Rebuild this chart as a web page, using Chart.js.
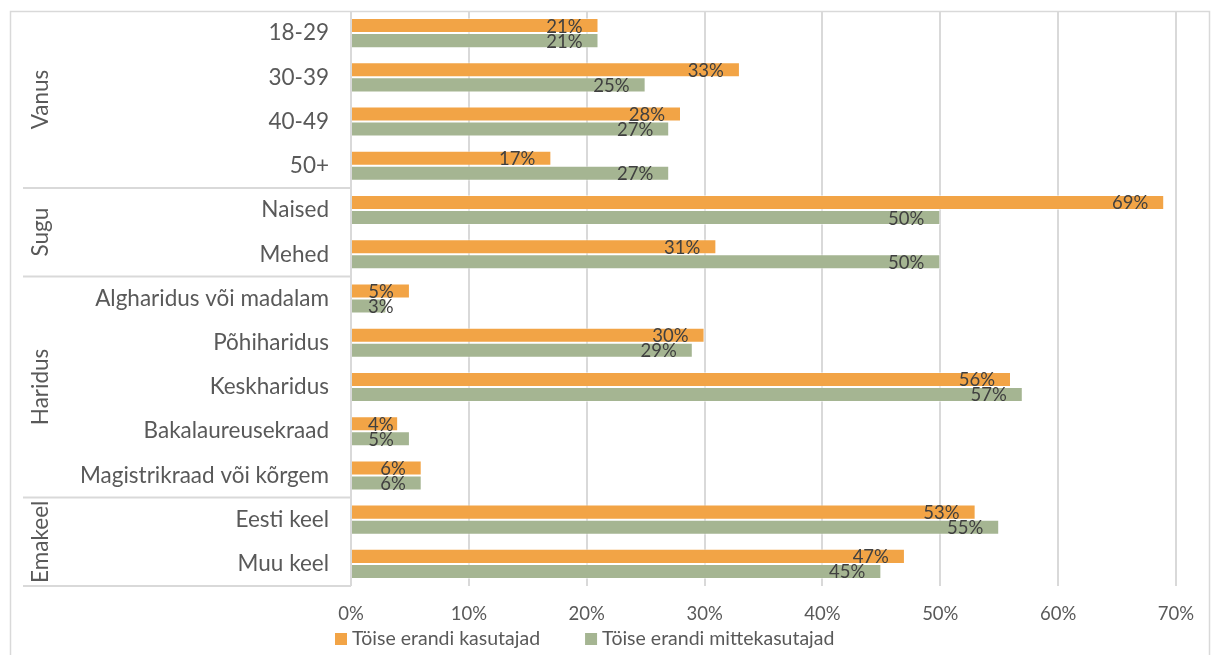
<!DOCTYPE html>
<html>
<head>
<meta charset="utf-8">
<script src="https://cdn.jsdelivr.net/npm/chart.js@4/dist/chart.umd.min.js"></script>
<style>
  html, body { margin: 0; padding: 0; background: #ffffff; }
  #wrap { width: 1213px; height: 655px; position: relative; }
</style>
</head>
<body>
<div id="wrap"><canvas id="c" width="1213" height="655"></canvas></div>
<script>
// Categories, top to bottom
const categories = [
  '18-29', '30-39', '40-49', '50+',
  'Naised', 'Mehed',
  'Algharidus või madalam', 'Põhiharidus', 'Keskharidus', 'Bakalaureusekraad', 'Magistrikraad või kõrgem',
  'Eesti keel', 'Muu keel'
];
// Grouping of the categories (name + number of rows in each group)
const groupNames = ['Vanus', 'Sugu', 'Haridus', 'Emakeel'];
const groupSizes = [4, 2, 5, 2];

// Series (percent)
const seriesNames = ['Töise erandi kasutajad', 'Töise erandi mittekasutajad'];
const users    = [21, 33, 28, 17, 69, 31, 5, 30, 56, 4, 6, 53, 47];
const nonUsers = [21, 25, 27, 27, 50, 50, 3, 29, 57, 5, 6, 55, 45];

// Axis ticks
const xTicks = [0, 10, 20, 30, 40, 50, 60, 70];

const FONT = 'Lato, "Open Sans", "Liberation Sans", sans-serif';
const TEXT = '#595959';
const LABEL = '#404040';
const GRID = '#d9d9d9';
const ORANGE = '#F2A446';
const GREEN = '#A5B592';

// Frame, group labels, separators, value labels and legend
const decorations = {
  id: 'decorations',
  beforeDraw(chart) {
    const ctx = chart.ctx;
    ctx.save();
    ctx.fillStyle = '#ffffff';
    ctx.fillRect(0, 0, chart.width, chart.height);
    ctx.strokeStyle = GRID;
    ctx.lineWidth = 1.5;
    ctx.strokeRect(10.5, 11.5, 1199, 700);
    ctx.restore();
  },
  afterDraw(chart) {
    const ctx = chart.ctx;
    const area = chart.chartArea;
    const y = chart.scales.y;
    ctx.save();

    // group separators and rotated group names
    ctx.strokeStyle = GRID;
    ctx.lineWidth = 2;
    let start = 0;
    groupNames.forEach((name, gi) => {
      const end = start + groupSizes[gi];
      const yTop = y.getPixelForValue(start - 0.5);
      const yBot = y.getPixelForValue(end - 0.5);
      ctx.beginPath();
      ctx.moveTo(23, yBot);
      ctx.lineTo(area.left, yBot);
      ctx.stroke();
      ctx.save();
      ctx.translate(41, (yTop + yBot) / 2);
      ctx.rotate(-Math.PI / 2);
      ctx.fillStyle = TEXT;
      ctx.font = '22.5px ' + FONT;
      ctx.textAlign = 'center';
      ctx.textBaseline = 'middle';
      ctx.fillText(name, 0, 0);
      ctx.restore();
      start = end;
    });

    // value labels at the inner end of each bar
    ctx.font = '18.5px ' + FONT;
    ctx.fillStyle = LABEL;
    ctx.textBaseline = 'middle';
    ctx.textAlign = 'left';
    chart.data.datasets.forEach((ds, di) => {
      const meta = chart.getDatasetMeta(di);
      meta.data.forEach((el, i) => {
        const txt = ds.data[i] + '%';
        const w = ctx.measureText(txt).width;
        let left = el.x - 16 - w;
        if (left < el.base + 16) left = el.base + 16;
        ctx.fillText(txt, left, el.y + 1);
      });
    });

    // legend
    ctx.font = '19.5px ' + FONT;
    let lx = 335;
    const ly = 639;
    chart.data.datasets.forEach((ds) => {
      ctx.fillStyle = ds.backgroundColor;
      ctx.fillRect(lx, ly - 6, 12, 12);
      ctx.fillStyle = TEXT;
      ctx.fillText(ds.label, lx + 17, ly);
      lx += 17 + ctx.measureText(ds.label).width + 45;
    });
    ctx.restore();
  }
};

new Chart(document.getElementById('c'), {
  type: 'bar',
  data: {
    labels: categories,
    datasets: [
      { label: seriesNames[0], data: users, backgroundColor: ORANGE,
        borderColor: 'rgba(255,255,255,0.45)', borderWidth: 1,
        categoryPercentage: 0.68, barPercentage: 1.0 },
      { label: seriesNames[1], data: nonUsers, backgroundColor: GREEN,
        borderColor: 'rgba(255,255,255,0.45)', borderWidth: 1,
        categoryPercentage: 0.68, barPercentage: 1.0 }
    ]
  },
  options: {
    indexAxis: 'y',
    responsive: false,
    animation: false,
    layout: { padding: { top: 11, right: 37, left: 0, bottom: 0 } },
    plugins: { legend: { display: false }, tooltip: { enabled: false } },
    scales: {
      x: {
        min: 0, max: 70,
        afterBuildTicks(scale) { scale.ticks = xTicks.map(v => ({ value: v })); },
        afterFit(scale) { scale.height = 69; },
        grid: { color: GRID, lineWidth: 2, drawTicks: false },
        border: { display: false },
        ticks: {
          padding: 17,
          color: TEXT,
          font: { family: FONT, size: 18.5 },
          callback: v => v + '%'
        }
      },
      y: {
        afterFit(scale) {
          scale.width = 351;
          scale.paddingTop = 0;
          scale.paddingBottom = 0;
        },
        grid: { display: false, drawTicks: false },
        border: { display: false },
        ticks: {
          padding: 22,
          color: TEXT,
          font: { family: FONT, size: 22.5 },
          autoSkip: false
        }
      }
    }
  },
  plugins: [decorations]
});
</script>
</body>
</html>
